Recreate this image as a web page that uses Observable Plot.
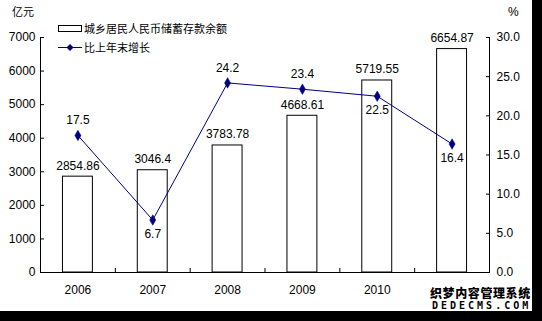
<!DOCTYPE html>
<html>
<head>
<meta charset="utf-8">
<script src="https://cdn.jsdelivr.net/npm/d3@7"></script>
<script src="https://cdn.jsdelivr.net/npm/@observablehq/plot@0.6"></script>
<style>
  html, body { margin: 0; padding: 0; background: #000; width: 542px; height: 321px; overflow: hidden; }
  #wrap { position: relative; width: 532px; height: 311px; background: #fff; }
  .cjk { font-family: "Noto Sans CJK SC", sans-serif; font-size: 11px; color: #000; position: absolute; white-space: nowrap; line-height: 1; }
  .num { font-family: "Liberation Sans", sans-serif; font-size: 12px; position: absolute; line-height: 1; }
  #legend { position: absolute; left: 56px; top: 20px; }
  .wm1 { position: absolute; left: 430px; top: 287px; font-family: "Noto Sans CJK SC", sans-serif; font-weight: 900; font-size: 12px; letter-spacing: 0.6px; color: #000; line-height: 12px; height: 12px; white-space: nowrap; }
  .wm2 { position: absolute; left: 432px; top: 301px; font-family: "DejaVu Sans Mono", monospace; font-weight: bold; font-size: 10px; letter-spacing: 3px; color: #000; line-height: 10px; height: 10px; white-space: nowrap; }
</style>
</head>
<body>
<div id="wrap"></div>
<script>
const years = ["2006", "2007", "2008", "2009", "2010", "2011"];
const deposits = [2854.86, 3046.4, 3783.78, 4668.61, 5719.55, 6654.87];
const depositLabels = ["2854.86", "3046.4", "3783.78", "4668.61", "5719.55", "6654.87"];
const growth = [17.5, 6.7, 24.2, 23.4, 22.5, 16.4];
const growthLabels = ["17.5", "6.7", "24.2", "23.4", "22.5", "16.4"];
const leftTicks = [0, 1000, 2000, 3000, 4000, 5000, 6000, 7000];
const rightTicks = [0, 5, 10, 15, 20, 25, 30];
const visibleYearLabels = ["2006", "2007", "2008", "2009", "2010"]; // 2011 is hidden under the watermark
const seriesNames = ["城乡居民人民币储蓄存款余额", "比上年末增长"];
const leftUnit = "亿元";
const rightUnit = "%";

const yMax = 7000, pMax = 30;
const k = yMax / pMax;
const rows = years.map((year, i) => ({
  year, deposit: deposits[i], label: depositLabels[i],
  growth: growth[i], gy: growth[i] * k, glabel: growthLabels[i]
}));
const aboveYears = new Set(["2006", "2008", "2009"]);

const W = 532, H = 311, mL = 40, mR = 43;
const step = (W - mL - mR) / years.length;
const navy = "#000080";
const FS = 12;

const chart = Plot.plot({
  width: W, height: H,
  marginLeft: mL, marginRight: mR, marginTop: 37, marginBottom: 39,
  style: { fontFamily: "'Liberation Sans', Arial, sans-serif", fontSize: FS + "px", background: "transparent", color: "#000" },
  x: { domain: years, paddingInner: 0.6, paddingOuter: 0.3, round: false, axis: null },
  y: { domain: [0, yMax], axis: null },
  marks: [
    Plot.barY(rows, { x: "year", y: "deposit", fill: "white", stroke: "black", strokeWidth: 1 }),
    Plot.frame({ anchor: "left", stroke: "black" }),
    Plot.frame({ anchor: "right", stroke: "black" }),
    Plot.frame({ anchor: "bottom", stroke: "black" }),
    Plot.axisY({ anchor: "left", ticks: leftTicks, tickSize: 0, tickPadding: 5, tickFormat: d => String(d), fontSize: FS, label: null }),
    Plot.axisY({ anchor: "left", ticks: leftTicks, tickSize: 4, dx: 4, tickFormat: () => "", label: null }),
    Plot.axisY({ anchor: "right", ticks: rightTicks.map(t => t * k), tickSize: 0, tickPadding: 7, tickFormat: d => (d / k).toFixed(1), fontSize: FS, label: null }),
    Plot.axisY({ anchor: "right", ticks: rightTicks.map(t => t * k), tickSize: 4, dx: -4, tickFormat: () => "", label: null }),
    Plot.axisX({ anchor: "bottom", ticks: visibleYearLabels, tickSize: 0, tickPadding: 13, fontSize: FS, label: null }),
    Plot.axisX({ anchor: "bottom", ticks: years.slice(1), tickSize: 4, dx: -step / 2, dy: -4, tickFormat: () => "", label: null }),
    Plot.line(rows, { x: "year", y: "gy", stroke: navy, strokeWidth: 1 }),
    Plot.dot(rows, { x: "year", y: "gy", symbol: "diamond", r: 3.2, fill: navy, stroke: navy, strokeWidth: 0.5 }),
    Plot.text(rows, { x: "year", y: "deposit", text: "label", dy: -11, fontSize: FS }),
    Plot.text(rows.filter(d => aboveYears.has(d.year)), { x: "year", y: "gy", text: "glabel", dy: -15, fontSize: FS }),
    Plot.text(rows.filter(d => !aboveYears.has(d.year)), { x: "year", y: "gy", text: "glabel", dy: 14, fontSize: FS })
  ]
});

const wrap = document.getElementById("wrap");
wrap.appendChild(chart);
chart.style.position = "absolute";
chart.style.left = "0";
chart.style.top = "0";

const u1 = document.createElement("div");
u1.className = "cjk"; u1.textContent = leftUnit;
u1.style.left = "12px"; u1.style.top = "6px";
wrap.appendChild(u1);
const u2 = document.createElement("div");
u2.className = "num"; u2.textContent = rightUnit;
u2.style.left = "508px"; u2.style.top = "6px";
wrap.appendChild(u2);

const legend = document.createElement("div");
legend.id = "legend";
legend.innerHTML = `
  <svg width="30" height="36" style="position:absolute;left:0;top:0">
    <rect x="2.5" y="5.5" width="23" height="6" fill="white" stroke="black"/>
    <line x1="2" x2="26" y1="27.5" y2="27.5" stroke="${navy}" stroke-width="1"/>
    <path d="M14,24 L17.5,27.5 L14,31 L10.5,27.5 Z" fill="${navy}"/>
  </svg>
  <div class="cjk" style="left:28px;top:3px">${seriesNames[0]}</div>
  <div class="cjk" style="left:28px;top:22px">${seriesNames[1]}</div>`;
wrap.appendChild(legend);

const wm1 = document.createElement("div");
wm1.className = "wm1"; wm1.textContent = "织梦内容管理系统";
wrap.appendChild(wm1);
const wm2 = document.createElement("div");
wm2.className = "wm2"; wm2.textContent = "DEDECMS.COM";
wrap.appendChild(wm2);
</script>
</body>
</html>
